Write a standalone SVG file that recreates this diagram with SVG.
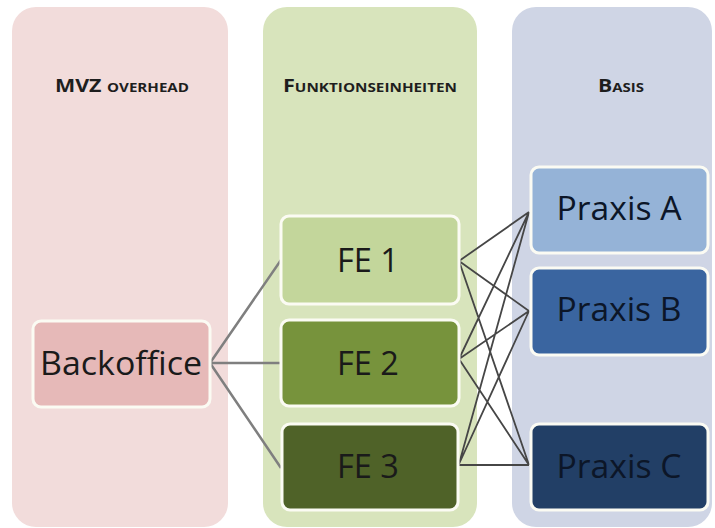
<svg xmlns="http://www.w3.org/2000/svg" width="715" height="528" viewBox="0 0 715 528">
<style>
.col{stroke:none}
.hdr{font-family:"Open Sans","Liberation Sans",sans-serif;font-weight:bold;font-size:17px;font-variant:small-caps;fill:#1e1e1e;text-anchor:middle}
.node rect{stroke:#fbfbf3;stroke-width:3}
.lbl{font-family:"Open Sans","Noto Sans",sans-serif;font-size:32px;text-anchor:middle;fill:#1a1a1a}
.lblb{font-family:"Open Sans","Noto Sans",sans-serif;font-size:32px;text-anchor:middle;fill:#0c1628}
.c1{stroke:#7f7f7f;stroke-width:2.5;fill:none}
.c2{stroke:#464646;stroke-width:1.8;fill:none}
</style>
<rect width="715" height="528" fill="#ffffff"/>
<g id="col-overhead">
<rect class="col" x="12" y="7" width="216" height="520" rx="24" fill="#f2dcdb"/>
<text class="hdr" x="122" y="92" textLength="134" lengthAdjust="spacingAndGlyphs">MVZ overhead</text>
</g>
<g id="col-funktion">
<rect class="col" x="263" y="7" width="214" height="520" rx="24" fill="#d8e4bc"/>
<text class="hdr" x="370" y="92" textLength="174" lengthAdjust="spacingAndGlyphs">Funktionseinheiten</text>
</g>
<g id="col-basis">
<rect class="col" x="512" y="7" width="200" height="520" rx="24" fill="#cfd5e5"/>
<text class="hdr" x="621" y="92" textLength="46" lengthAdjust="spacingAndGlyphs">Basis</text>
</g>
<g id="connectors">
<path class="c1" d="M210 363 L281 260 M210 363 L281 363 M210 363 L281 468"/>
<path class="c2" d="M459 261 L529 212 M459 261 L529 311 M459 261 L529 465 M459 359 L529 212 M459 359 L529 311 M459 359 L529 465 M459 464 L529 212 M459 464 L529 311 M459 465 L529 465"/>
</g>
<g id="backoffice" class="node">
<rect x="33" y="321" width="177" height="86" rx="8" fill="#e6b9b8"/>
<text class="lbl" x="121" y="375" textLength="162" lengthAdjust="spacingAndGlyphs">Backoffice</text>
</g>
<g id="fe1" class="node">
<rect x="281" y="216" width="178" height="88" rx="8" fill="#c3d69b"/>
<text class="lbl" x="368" y="272" textLength="62" lengthAdjust="spacingAndGlyphs">FE 1</text>
</g>
<g id="fe2" class="node">
<rect x="281" y="320" width="178" height="86" rx="8" fill="#77933c"/>
<text class="lbl" x="368" y="375" textLength="62" lengthAdjust="spacingAndGlyphs">FE 2</text>
</g>
<g id="fe3" class="node">
<rect x="282" y="424" width="176" height="86" rx="8" fill="#4f6228"/>
<text class="lbl" x="368" y="478" textLength="62" lengthAdjust="spacingAndGlyphs">FE 3</text>
</g>
<g id="praxis-a" class="node">
<rect x="531" y="167" width="177" height="86" rx="8" fill="#95b3d7"/>
<text class="lblb" x="619" y="220" textLength="125" lengthAdjust="spacingAndGlyphs">Praxis A</text>
</g>
<g id="praxis-b" class="node">
<rect x="531" y="268" width="177" height="87" rx="8" fill="#3a65a0"/>
<text class="lblb" x="619" y="321" textLength="125" lengthAdjust="spacingAndGlyphs">Praxis B</text>
</g>
<g id="praxis-c" class="node">
<rect x="531" y="424" width="177" height="86" rx="8" fill="#223f66"/>
<text class="lblb" x="619" y="478" textLength="125" lengthAdjust="spacingAndGlyphs">Praxis C</text>
</g>
</svg>
